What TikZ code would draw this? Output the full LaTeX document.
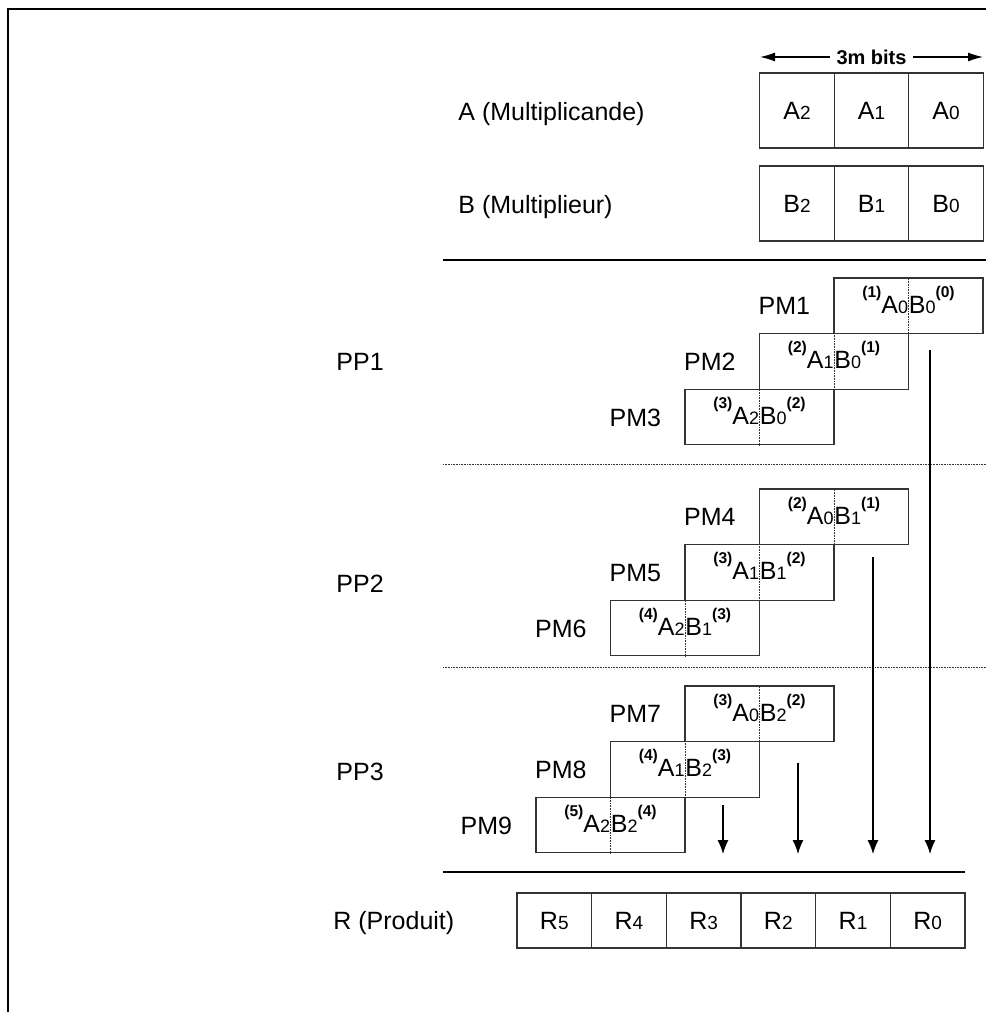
\documentclass[tikz,border=0pt]{standalone}
\usepackage{fontspec}
\setmainfont{Liberation Sans}
\usetikzlibrary{arrows.meta}
\newcommand{\cellsub}[1]{{\fontsize{9.5}{9.5}\selectfont #1}}
\newcommand{\pmsub}[1]{{\fontsize{9}{9}\selectfont #1}}
\newcommand{\pmexp}[1]{\raisebox{8pt}{\fontsize{7.8}{8}\selectfont\bfseries(#1)}}

\begin{document}
\begin{tikzpicture}[x=0.5pt,y=-0.5pt,
  every node/.style={font=\fontsize{12.5}{15}\selectfont,inner sep=0pt},
  cell/.style={draw=black!80,line width=0.6pt,minimum width=37.25pt,minimum height=37.5pt},
  rcell/.style={draw=black!80,line width=0.6pt,minimum width=37.33pt,minimum height=27.5pt},
  pmbox/.style={draw=black!80,line width=0.6pt,minimum width=74.5pt,minimum height=27.8pt},
  lbl/.style={anchor=base west},
  sepline/.style={line width=0.6pt},
  dotline/.style={line width=0.5pt,black!80,dash pattern=on 0.4pt off 0.4pt},
  flow/.style={line width=0.6pt,-{Latex[length=7pt,width=5.5pt]}}]
\useasboundingbox (0,0) rectangle (986,1012);
\draw[line width=1pt] (8,1012) -- (8,9) -- (986,9);

% operands
\node[font=\fontsize{10}{12}\selectfont\bfseries,fill=white,inner xsep=3pt] (bits) at (871.5,57) {3m bits};
\coordinate (bitsL) at (760,57);
\coordinate (bitsR) at (983,57);
\draw[line width=0.6pt,-{Latex[length=7.5pt,width=4.5pt]}] (bits) -- (bitsL);
\draw[line width=0.6pt,-{Latex[length=7.5pt,width=4.5pt]}] (bits) -- (bitsR);

\node[lbl] (la) at (458,120) {A (Multiplicande)};
\node[cell] (a2) at (797,110.5) {A\cellsub{2}};
\node[cell] (a1) at (871.5,110.5) {A\cellsub{1}};
\node[cell] (a0) at (946,110.5) {A\cellsub{0}};

\node[lbl] (lb) at (458,213) {B (Multiplieur)};
\node[cell] (b2) at (797,203.5) {B\cellsub{2}};
\node[cell] (b1) at (871.5,203.5) {B\cellsub{1}};
\node[cell] (b0) at (946,203.5) {B\cellsub{0}};

\draw[sepline] (443,260) -- (986,260);
\draw[dotline] (443,464) -- (986,464);
\draw[dotline] (443,667) -- (986,667);
\draw[sepline] (443,872) -- (965,872);

% partial products
\node[lbl] (pp1) at (336,370) {PP1};
\node[lbl] (pp2) at (336,592) {PP2};
\node[lbl] (pp3) at (336,780) {PP3};

\foreach \n/\x/\y/\i/\j/\p/\q in {1/908.5/305.8/0/0/1/0, 2/834/361.4/1/0/2/1, 3/759.5/417/2/0/3/2,
    4/834/516.8/0/1/2/1, 5/759.5/572.4/1/1/3/2, 6/685/628/2/1/4/3,
    7/759.5/713.8/0/2/3/2, 8/685/769.4/1/2/4/3, 9/610.5/825/2/2/5/4}{
  \node[pmbox] (pm\n) at (\x,\y) {};
  \draw[dotline] (pm\n.north) -- (pm\n.south);
  \node[anchor=base east] (pm\n a) at ([yshift=-3.75pt]pm\n.center) {\pmexp{\p}A\pmsub{\i}};
  \node[anchor=base west] (pm\n b) at ([yshift=-3.75pt]pm\n.center) {B\pmsub{\j}\pmexp{\q}};
  \node[anchor=base east] (lpm\n) at ([xshift=-11.5pt,yshift=-4.5pt]pm\n.west) {PM\n};
}

% sums
\coordinate (s0) at (930,350);  \coordinate (e0) at (930,854);
\coordinate (s1) at (873,557);  \coordinate (e1) at (873,854);
\coordinate (s2) at (798,763);  \coordinate (e2) at (798,854);
\coordinate (s3) at (723,805);  \coordinate (e3) at (723,854);
\draw[flow] (s0) -- (e0);
\draw[flow] (s1) -- (e1);
\draw[flow] (s2) -- (e2);
\draw[flow] (s3) -- (e3);

% result
\node[lbl] (lr) at (333,929) {R (Produit)};
\node[rcell] (r5) at (554.3,920.5) {R\cellsub{5}};
\node[rcell] (r4) at (629,920.5) {R\cellsub{4}};
\node[rcell] (r3) at (703.7,920.5) {R\cellsub{3}};
\node[rcell] (r2) at (778.3,920.5) {R\cellsub{2}};
\node[rcell] (r1) at (853,920.5) {R\cellsub{1}};
\node[rcell] (r0) at (927.7,920.5) {R\cellsub{0}};
\end{tikzpicture}
\end{document}
